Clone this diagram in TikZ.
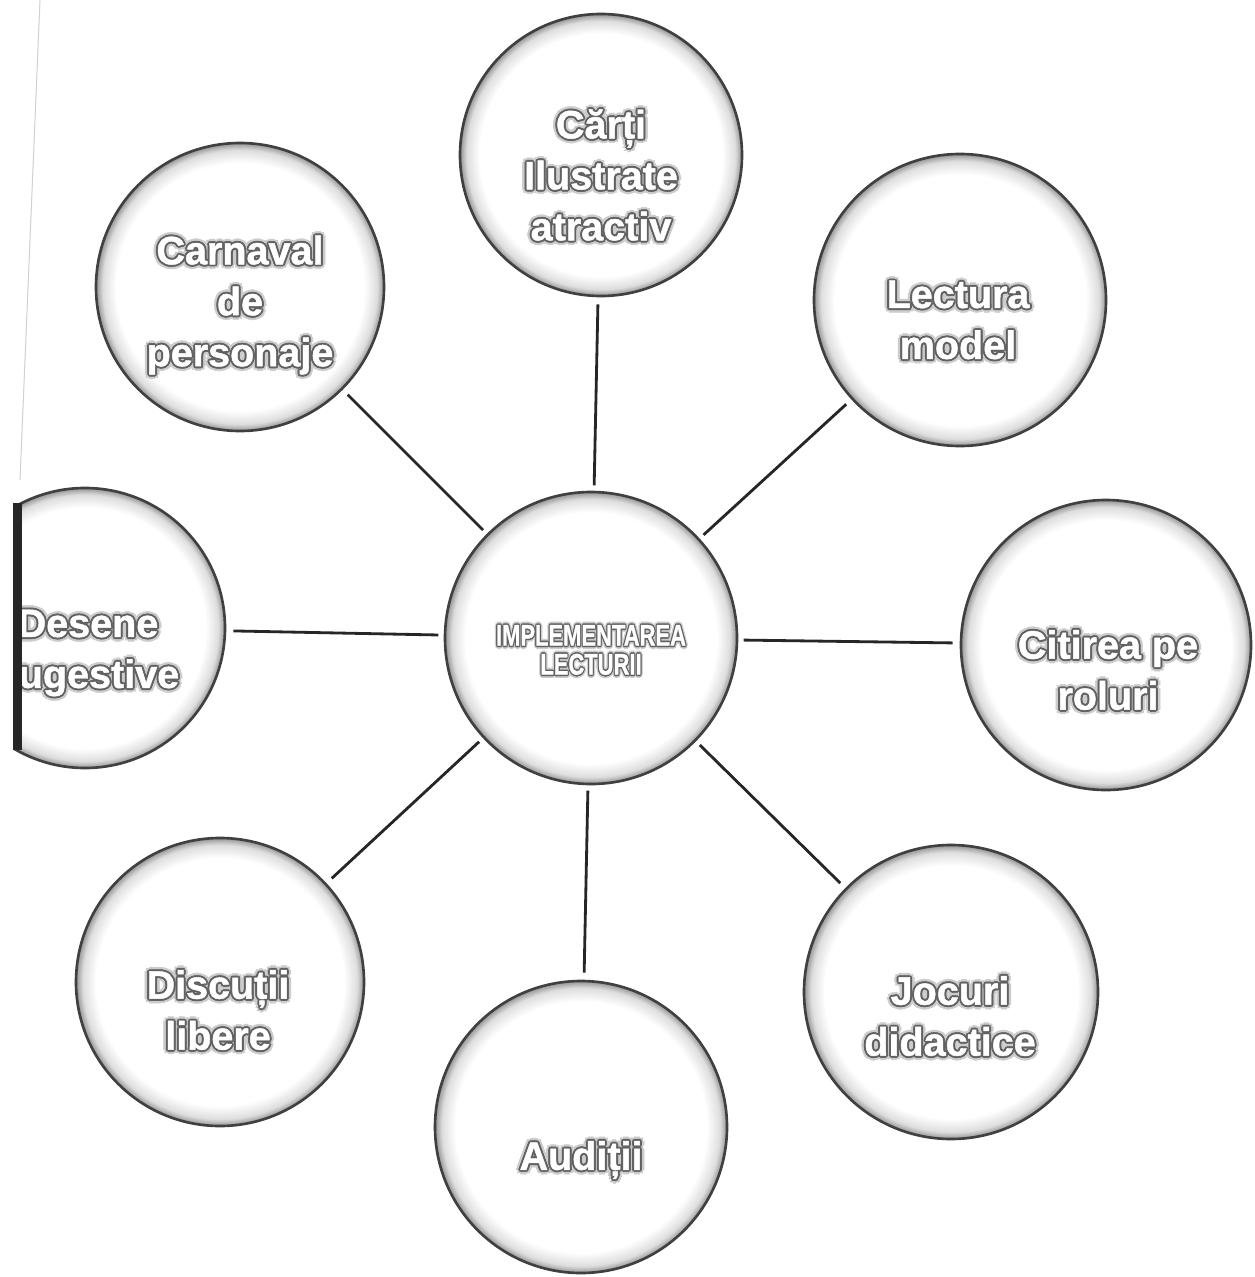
\documentclass[tikz,border=0pt]{standalone}
\usepackage{fontspec}
\usepackage{graphicx}
\setmainfont{Liberation Sans}[BoldFeatures={FakeBold=1.2}]
\pgfdeclareradialshading{rim}{\pgfpointorigin}{color(0bp)=(white); color(21.5bp)=(white); color(23.8bp)=(black!13); color(25bp)=(black!42); color(50bp)=(black!42)}
\newcommand\shadowat[3]{\rlap{\color{#1}\kern#2\raise#3\copy0}}
\newcommand\emb[1]{{\setbox0=\hbox{#1}%
\shadowat{black!20}{0.11em}{0em}\shadowat{black!20}{-0.11em}{0em}%
\shadowat{black!20}{0em}{0.11em}\shadowat{black!20}{0em}{-0.11em}%
\shadowat{black!20}{0.08em}{0.08em}\shadowat{black!20}{-0.08em}{0.08em}%
\shadowat{black!20}{0.08em}{-0.08em}\shadowat{black!20}{-0.08em}{-0.08em}%
\shadowat{black!62}{0.05em}{0em}\shadowat{black!62}{-0.05em}{0em}%
\shadowat{black!62}{0em}{0.05em}\shadowat{black!62}{0em}{-0.05em}%
\shadowat{black!62}{0.035em}{0.035em}\shadowat{black!62}{-0.035em}{0.035em}%
\shadowat{black!62}{0.035em}{-0.035em}\shadowat{black!62}{-0.035em}{-0.035em}%
\color{white}\copy0}}
\newcommand\tallemb[1]{\scalebox{1}[1.35]{\emb{#1}}}
\tikzset{
  bub/.style={circle, shading=rim, draw=black!75, line width=1.5pt, minimum size={#1*0.02cm}, inner sep=0pt},
  lbl/.style={inner sep=0pt, align=center, font=\bfseries\fontsize{22.5}{29}\selectfont},
  link/.style={draw=black!85, line width=1.6pt, shorten <=3pt, shorten >=4pt}
}
\begin{document}
\begin{tikzpicture}[x=0.02cm,y=-0.02cm]
\useasboundingbox (0,0) rectangle (1254,1277);
\fill[white] (0,0) rectangle (1254,1277);
\draw[black!18, line width=0.6pt] (40,0) -- (20,480);
\node[bub=292] (c) at (591,638) {};
\node[bub=282] (t) at (601,155) {};
\node[bub=288] (tl) at (240,287) {};
\node[bub=292] (tr) at (960,300) {};
\node[bub=290] (r) at (1106,645) {};
\node[bub=288] (bl) at (220,982) {};
\node[bub=292] (b) at (581,1127) {};
\node[bub=294] (br) at (951,992) {};
\begin{scope}
\clip (14,0) rectangle (1254,1277);
\node[bub=280] (l) at (85,628) {};
\node[lbl] (l-t) at (88,653) {\emb{Desene}\\\emb{sugestive}};
\end{scope}
\fill[black!85] (13,503) rectangle (22,750);
\node[lbl, font=\bfseries\fontsize{12.5}{14.5}\selectfont] (c-t) at (591,650) {\tallemb{IMPLEMENTAREA}\\\tallemb{LECTURII}};
\node[lbl] (t-t) at (601,175) {\emb{Cărți}\\\emb{Ilustrate}\\\emb{atractiv}};
\node[lbl] (tl-t) at (240,305) {\emb{Carnaval}\\\emb{de}\\\emb{personaje}};
\node[lbl] (tr-t) at (958,320) {\emb{Lectura}\\\emb{model}};
\node[lbl] (r-t) at (1108,670) {\emb{Citirea pe}\\\emb{roluri}};
\node[lbl] (bl-t) at (218,1010) {\emb{Discuții}\\\emb{libere}};
\node[lbl] (b-t) at (581,1160) {\emb{Audiții}};
\node[lbl] (br-t) at (950,1016) {\emb{Jocuri}\\\emb{didactice}};
\draw[link] (c) -- (t);
\draw[link] (c) -- (tl);
\draw[link] (c) -- (tr);
\draw[link] (c) -- (l);
\draw[link] (c) -- (r);
\draw[link] (c) -- (bl);
\draw[link] (c) -- (b);
\draw[link] (c) -- (br);
\end{tikzpicture}
\end{document}
